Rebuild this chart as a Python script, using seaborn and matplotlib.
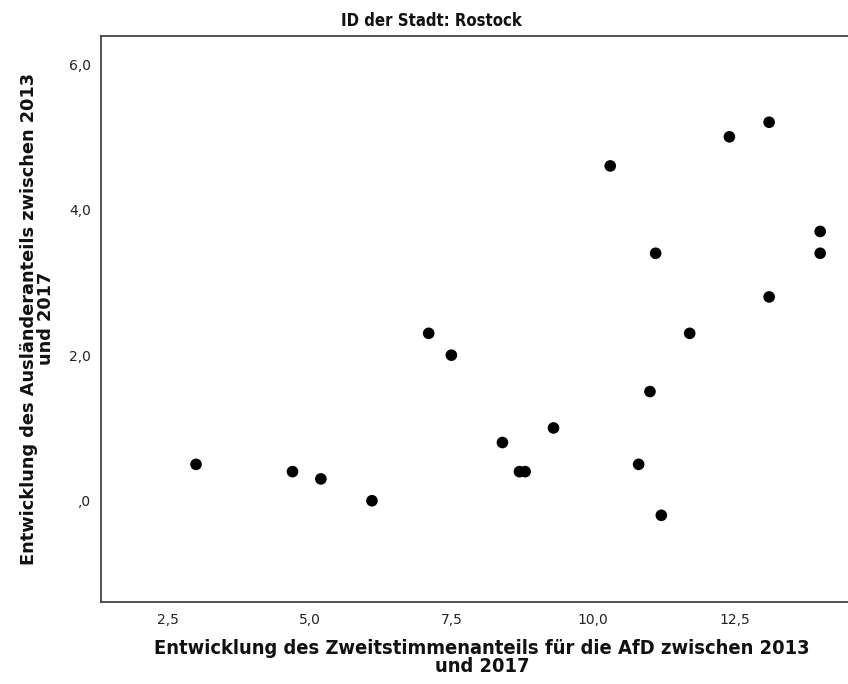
import matplotlib
matplotlib.use("Agg")
import matplotlib.pyplot as plt
import matplotlib.ticker as mticker
import seaborn as sns
import pandas as pd

sns.set_style("white")
plt.rcParams["font.family"] = ["DejaVu Sans"]

# data
afd_change = [3.0, 4.7, 5.2, 6.1, 7.1, 7.5, 8.4, 8.7, 8.8, 9.3, 10.3,
              10.8, 11.0, 11.1, 11.2, 11.7, 12.4, 13.1, 13.1, 14.0, 14.0]
foreign_change = [0.5, 0.4, 0.3, 0.0, 2.3, 2.0, 0.8, 0.4, 0.4, 1.0, 4.6,
                  0.5, 1.5, 3.4, -0.2, 2.3, 5.0, 5.2, 2.8, 3.7, 3.4]
x_ticks = [2.5, 5.0, 7.5, 10.0, 12.5]
y_ticks = [0.0, 2.0, 4.0, 6.0]

df = pd.DataFrame({"afd": afd_change, "foreign": foreign_change})

def de_fmt(v, pos):
    s = f"{v:.1f}".replace(".", ",")
    if s.startswith("0,"):
        s = s[1:]
    return s

fig = plt.figure(figsize=(8.48, 6.84), dpi=100)
ax = fig.add_axes([101 / 848, 82.3 / 684, 747 / 848, 565.7 / 684])

sns.scatterplot(data=df, x="afd", y="foreign", ax=ax, color="black",
                s=70, edgecolor="none", linewidth=0)

ax.set_xlim(1.325, 14.49)
ax.set_ylim(-1.387, 6.385)
ax.set_xticks(x_ticks)
ax.set_yticks(y_ticks)
ax.xaxis.set_major_formatter(mticker.FuncFormatter(de_fmt))
ax.yaxis.set_major_formatter(mticker.FuncFormatter(de_fmt))
ax.tick_params(direction="out", length=6, width=1.2, color="#333333",
               labelsize=10, labelcolor="#222222", pad=2)
ax.tick_params(axis="y", pad=1)

for side in ["left", "bottom", "top"]:
    ax.spines[side].set_color("#444444")
    ax.spines[side].set_linewidth(1.3)
ax.spines["right"].set_visible(False)

fig.text(431 / 848, 1 - 21 / 684, "ID der Stadt: Rostock", ha="center",
         va="center", fontsize=12, fontweight="bold", fontstretch="condensed",
         color="#111111")
ax.set_xlabel("Entwicklung des Zweitstimmenanteils für die AfD zwischen 2013\nund 2017",
              fontsize=14.4, fontweight="bold", fontstretch="condensed",
              linespacing=0.95, color="#111111")
ax.xaxis.set_label_coords(0.51, -0.066)
ax.set_ylabel("Entwicklung des Ausländeranteils zwischen 2013\nund 2017",
              fontsize=12.8, fontweight="bold", linespacing=0.95,
              color="#111111")
ax.yaxis.set_label_coords(-0.0616, 0.5)

fig.savefig("out.png", dpi=100)
